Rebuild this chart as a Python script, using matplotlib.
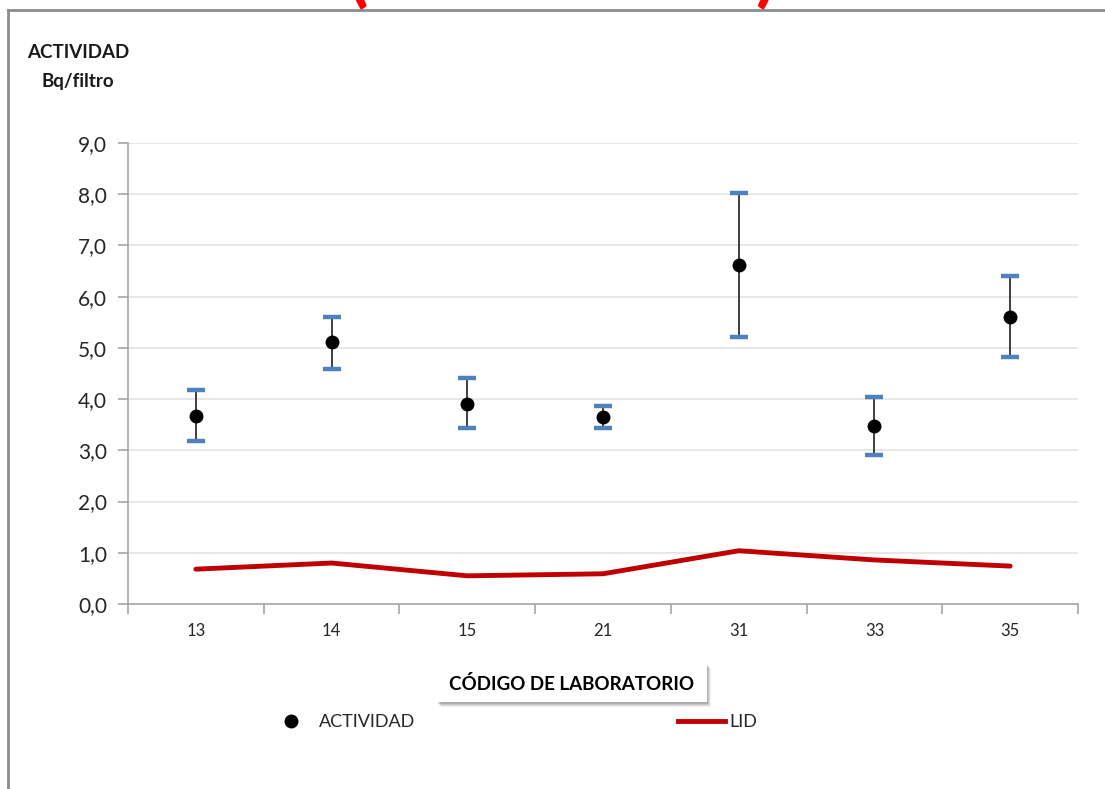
import matplotlib
matplotlib.use("Agg")
import matplotlib.pyplot as plt
from matplotlib.lines import Line2D
from matplotlib.patches import Rectangle
import numpy as np

# ---- data ----
labs = ["13", "14", "15", "21", "31", "33", "35"]
actividad = [3.67, 5.12, 3.91, 3.65, 6.62, 3.48, 5.60]
upper = [4.18, 5.60, 4.41, 3.87, 8.03, 4.04, 6.40]
lower = [3.18, 4.59, 3.44, 3.44, 5.21, 2.91, 4.82]
lid = [0.68, 0.80, 0.55, 0.59, 1.04, 0.86, 0.74]
yticks = [0, 1, 2, 3, 4, 5, 6, 7, 8, 9]

plt.rcParams['font.family'] = ['Lato', 'DejaVu Sans']

W, H = 1105, 789
fig = plt.figure(figsize=(W / 100, H / 100), dpi=100)

def fx(px):
    return px / W

def fy(py):
    return 1 - py / H

ax = fig.add_axes([fx(128), fy(604), fx(1078 - 128), (604 - 143) / H])

x = np.arange(len(labs))
act = np.array(actividad)
err = [act - np.array(lower), np.array(upper) - act]

ax.plot(x, lid, color='#C00000', lw=3.5, solid_capstyle='round', zorder=3, label='LID')
eb = ax.errorbar(x, act, yerr=err, fmt='o', color='black', ms=9, ecolor='#303030',
                 elinewidth=1.3, capsize=6.5, capthick=3.2, zorder=4, label='ACTIVIDAD')
for cap in eb[1]:
    cap.set_color('#4F81BD')
    cap.set_markeredgecolor('#4F81BD')
    cap.set_markerfacecolor('#4F81BD')
    cap.set_zorder(5)

ax.set_xlim(-0.5, len(labs) - 0.5)
ax.set_ylim(0, 9)
ax.set_yticks(yticks)
ax.set_yticklabels([f"{v:.1f}".replace('.', ',') for v in yticks], fontsize=15, color='#262626')
ax.set_xticks(np.arange(len(labs) + 1) - 0.5)
ax.set_xticklabels([])
ax.set_xticks(x, minor=True)
ax.set_xticklabels(labs, minor=True, fontsize=12, color='#262626')
ax.tick_params(axis='x', which='minor', length=0, pad=14)
ax.tick_params(axis='x', which='major', length=7, color='#A6A6A6', width=1.2)
ax.tick_params(axis='y', length=7, color='#A6A6A6', width=1.2, pad=8)
ax.grid(axis='y', color='#E3E3E3', lw=1.2)
ax.set_axisbelow(True)
for s in ['top', 'right']:
    ax.spines[s].set_visible(False)
for s in ['left', 'bottom']:
    ax.spines[s].set_color('#A6A6A6')
    ax.spines[s].set_linewidth(1.2)

# y-axis title
fig.text(fx(78), fy(52), "ACTIVIDAD", fontsize=13.5, fontweight='bold', ha='center', va='center', color='#1a1a1a')
fig.text(fx(78), fy(82), "Bq/filtro", fontsize=13.5, fontweight='bold', ha='center', va='center', color='#1a1a1a')

# x-axis title with shadowed box
bx0, by0, bx1, by1 = 437, 663, 707, 702
for i, a in enumerate([0.06, 0.08, 0.10, 0.12]):
    off = 5 - i
    fig.add_artist(Rectangle((fx(bx0 + off - 1), fy(by1 + off)), fx(bx1 - bx0), (by1 - by0) / H,
                             transform=fig.transFigure, facecolor='black', alpha=a, edgecolor='none', lw=0))
fig.add_artist(Rectangle((fx(bx0), fy(by1)), fx(bx1 - bx0), (by1 - by0) / H,
                         transform=fig.transFigure, facecolor='white', edgecolor='none'))
fig.text(fx((bx0 + bx1) / 2), fy(684), "CÓDIGO DE LABORATORIO", fontsize=13.5, fontweight='bold',
         ha='center', va='center', color='black')

# legend
h1 = Line2D([], [], marker='o', color='black', ls='none', ms=9)
h2 = Line2D([], [], color='#C00000', lw=3.5)
fig.legend([h1, h2], ['ACTIVIDAD', 'LID'], ncol=2, frameon=False, fontsize=13,
           loc='center left', bbox_to_anchor=(fx(268), fy(722)), borderpad=0, borderaxespad=0,
           handlelength=2.6, handletextpad=0.2, columnspacing=14.6, labelcolor='#262626')

# outer frame (chart area border)
fig.add_artist(Line2D([fx(8), 1.0], [fy(10), fy(10)], transform=fig.transFigure, color='#8C8C8C', lw=2))
fig.add_artist(Line2D([fx(8), fx(8)], [fy(10), 0.0], transform=fig.transFigure, color='#8C8C8C', lw=2))

# cut-off red title parentheses
fig.text(fx(358), fy(-2), "(", fontsize=54, fontweight='bold', color='#FF0000', ha='center', va='baseline')
fig.text(fx(766), fy(-2), ")", fontsize=54, fontweight='bold', color='#FF0000', ha='center', va='baseline')

fig.savefig("out.png", dpi=100)
